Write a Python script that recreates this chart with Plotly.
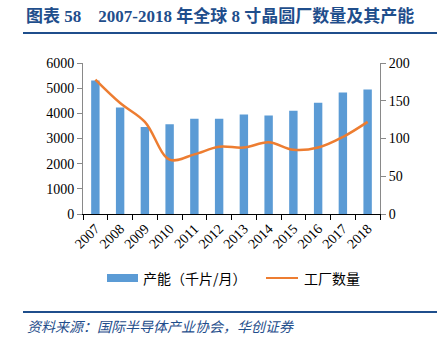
import plotly.graph_objects as go

years = ["2007", "2008", "2009", "2010", "2011", "2012", "2013", "2014", "2015", "2016", "2017", "2018"]
capacity = [5300, 4230, 3460, 3570, 3780, 3780, 3950, 3910, 4100, 4420, 4830, 4950]
fabs = [178, 147, 122, 72, 79, 89, 88, 95, 85, 88, 102, 122]

left_ticks = [0, 1000, 2000, 3000, 4000, 5000, 6000]
right_ticks = [0, 50, 100, 150, 200]

title_text = "图表 58    2007-2018 年全球 8 寸晶圆厂数量及其产能"
source_text = "资料来源：国际半导体产业协会，华创证券"
bar_name = "产能（千片/月）"
line_name = "工厂数量"

BLUE = "#5B9BD5"
ORANGE = "#ED7D31"
NAVY = "#1F4E8C"
AXIS = "#898989"
SERIF = "Liberation Serif"
CJK = "Noto Sans CJK SC"
TITLEF = "Liberation Serif, Noto Sans CJK SC"

L, R, T, B = 83, 380, 63, 214
W, H = 441, 338


def px(x):
    return (x - L) / (R - L)


def py(y):
    return (B - y) / (B - T)


fig = go.Figure()
fig.add_trace(go.Bar(x=years, y=capacity, name=bar_name, marker_color=BLUE,
                     marker_line_width=0, yaxis="y", showlegend=False))
fig.add_trace(go.Scatter(x=years, y=fabs, name=line_name, mode="lines",
                         line=dict(color=ORANGE, width=2.5, shape="spline", smoothing=1.0),
                         yaxis="y2", showlegend=False))

tickfont = dict(family=SERIF, size=14, color="#000")

fig.update_layout(
    width=W, height=H,
    margin=dict(l=L, r=W - R, t=T, b=H - B),
    paper_bgcolor="white", plot_bgcolor="white",
    bargap=0.66,
    xaxis=dict(type="category", showgrid=False, showline=True, linecolor="#000000", linewidth=1,
               ticks="outside", tickson="boundaries", ticklen=5, tickcolor="#000000",
               tickangle=-45, tickfont=tickfont, range=[-0.5, 11.5]),
    yaxis=dict(range=[0, 6000], tickvals=left_ticks, showgrid=False, zeroline=False,
               showline=True, linecolor=AXIS, linewidth=1, ticks="outside", ticklen=5,
               tickcolor=AXIS, tickfont=tickfont),
    yaxis2=dict(range=[0, 200], tickvals=right_ticks, overlaying="y", side="right",
                showgrid=False, zeroline=False, showline=True, linecolor=AXIS, linewidth=1,
                ticks="outside", ticklen=5, tickcolor=AXIS, tickfont=tickfont),
    showlegend=False,
)

shapes = [
    dict(type="line", xref="paper", yref="paper", x0=px(23), x1=px(437), y0=py(33), y1=py(33),
         line=dict(color=NAVY, width=2)),
    dict(type="line", xref="paper", yref="paper", x0=px(23), x1=px(437), y0=py(312), y1=py(312),
         line=dict(color=NAVY, width=2)),
    dict(type="rect", xref="paper", yref="paper", x0=px(107), x1=px(138), y0=py(282), y1=py(274),
         fillcolor=BLUE, line=dict(width=0)),
    dict(type="line", xref="paper", yref="paper", x0=px(266), x1=px(298), y0=py(278), y1=py(278),
         line=dict(color=ORANGE, width=2)),
]
fig.update_layout(shapes=shapes)

annotations = [
    dict(text="<b>" + title_text + "</b>", xref="paper", yref="paper", x=px(24), y=py(16),
         xanchor="left", yanchor="middle", showarrow=False,
         font=dict(family=TITLEF, size=17, color=NAVY)),
    dict(text="<i>" + source_text + "</i>", xref="paper", yref="paper", x=px(25), y=py(326),
         xanchor="left", yanchor="middle", showarrow=False,
         font=dict(family=CJK, size=14, color=NAVY)),
    dict(text=bar_name, xref="paper", yref="paper", x=px(141), y=py(278),
         xanchor="left", yanchor="middle", showarrow=False,
         font=dict(family=CJK, size=14, color="#000")),
    dict(text=line_name, xref="paper", yref="paper", x=px(302), y=py(278),
         xanchor="left", yanchor="middle", showarrow=False,
         font=dict(family=CJK, size=14, color="#000")),
]
fig.update_layout(annotations=annotations)

fig.write_html("out.html")
